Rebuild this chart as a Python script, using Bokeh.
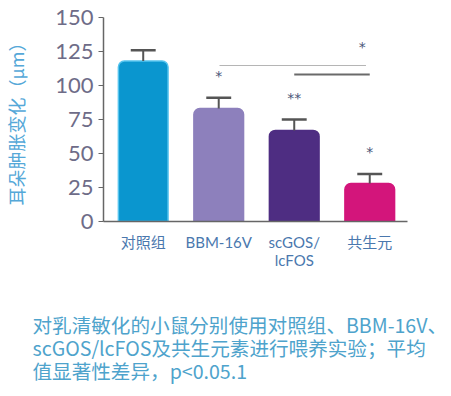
from bokeh.plotting import figure
from bokeh.models import Range1d, ColumnDataSource, FixedTicker, Title
from bokeh.embed import file_html
from bokeh.resources import INLINE
from bokeh.core.properties import value

# ---- data ----
groups = ["对照组", "BBM-16V", "scGOS/\nlcFOS", "共生元"]
means = [118, 83, 67, 28]
errors = [8, 8, 8, 7]
colors = ["#0A96CF", "#8D80BC", "#4E2D82", "#D3157B"]
outline = ["#55C4EE", "#8D80BC", "#4E2D82", "#D3157B"]
stars = ["*", "**", "*"]
star_x = [2, 3, 4]
star_y = [107, 91, 51]
brk_x0 = [2.01, 3.0]
brk_x1 = [3.95, 4.0]
brk_y = [114.7, 108]
brk_col = ["#B5B5B5", "#6A6A6A"]
brk_star_x = [3.9]
brk_star_y = [128.5]
yticks = [0, 25, 50, 75, 100, 125, 150]
ylabel = "耳朵肿胀变化（μm）"
caption = ["对乳清敏化的小鼠分别使用对照组、BBM-16V、",
           "scGOS/lcFOS及共生元素进行喂养实验；平均",
           "值显著性差异，p<0.05.1"]

xs = list(range(1, len(groups) + 1))
x0, x1 = 0.474, 4.5
y0, y1 = 0, 150

W, H = 451, 396
BL, BR, BT, BB = 101, 44, 17, 175
fw = W - BL - BR
pxx = fw / (x1 - x0)

p = figure(width=W, height=H, output_backend="svg", toolbar_location=None,
           x_range=Range1d(x0, x1), y_range=Range1d(y0, y1),
           min_border_left=BL, min_border_right=BR, min_border_top=BT, min_border_bottom=BB)
p.outline_line_color = None
p.xgrid.visible = False
p.ygrid.visible = False

src = ColumnDataSource(dict(x=xs, top=means, err=[m + e for m, e in zip(means, errors)],
                            c=colors, lc=outline,
                            cl=[x - 0.165 for x in xs], cr=[x + 0.165 for x in xs]))
p.vbar(x="x", top="top", width=50 / pxx, fill_color="c", line_color="lc", line_width=1.5,
       source=src, border_radius=(6, 6, 0, 0))
p.segment(x0="x", y0="top", x1="x", y1="err", line_color="#555555", line_width=2, source=src)
p.segment(x0="cl", y0="err", x1="cr", y1="err", line_color="#555555", line_width=2.5, source=src)

p.segment(x0=brk_x0, y0=brk_y, x1=brk_x1, y1=brk_y, line_color=brk_col, line_width=[1.2, 2])

p.text(x=star_x, y=star_y, text=stars, text_font=value("DejaVu Sans"), text_font_size="14px",
       text_color="#4A5578", text_align="center", text_baseline="middle")
p.text(x=brk_star_x, y=brk_star_y, text=["*"], text_font=value("DejaVu Sans"), text_font_size="14px",
       text_color="#4A5578", text_align="center", text_baseline="middle")

# y axis
p.yaxis.ticker = FixedTicker(ticks=yticks)
p.yaxis.minor_tick_line_color = None
p.yaxis.major_tick_out = 5
p.yaxis.major_tick_in = 0
p.yaxis.major_label_standoff = 5
p.yaxis.major_label_text_font = "Lato"
p.yaxis.major_label_text_font_size = "22px"
p.yaxis.major_label_text_color = "#6E6C88"
p.yaxis.axis_line_color = "#666666"
p.yaxis.axis_line_width = 1.5
p.yaxis.major_tick_line_color = "#666666"
p.yaxis.axis_label = ylabel
p.yaxis.axis_label_text_font = "Noto Sans CJK SC"
p.yaxis.axis_label_text_font_style = "normal"
p.yaxis.axis_label_text_font_size = "18px"
p.yaxis.axis_label_text_color = "#55A8D8"
p.yaxis.axis_label_standoff = 23

# x axis
p.xaxis.ticker = FixedTicker(ticks=xs)
p.xaxis.major_label_overrides = {x: g for x, g in zip(xs, groups)}
p.xaxis.major_tick_line_color = None
p.xaxis.minor_tick_line_color = None
p.xaxis.major_label_standoff = 5
p.xaxis.major_label_text_font = "Lato, 'Noto Sans CJK SC'"
p.xaxis.major_label_text_font_size = "15px"
p.xaxis.major_label_text_line_height = 1.0
p.xaxis.major_label_text_color = "#4A78AE"
p.xaxis.axis_line_color = "#666666"
p.xaxis.axis_line_width = 1.5
# blank axis label used only as spacer between tick labels and caption
p.xaxis.axis_label = " "
p.xaxis.axis_label_text_font_size = "10px"
p.xaxis.axis_label_standoff = 23

# caption below the chart
cap = Title(text="\n".join(caption), align="left", offset=30 - BL, standoff=0,
            text_font="Noto Sans CJK SC", text_font_style="normal", text_font_size="19.6px",
            text_color="#4EA3CC", text_line_height=0.80)
p.add_layout(cap, "below")

open("out.html", "w").write(file_html(p, INLINE))
